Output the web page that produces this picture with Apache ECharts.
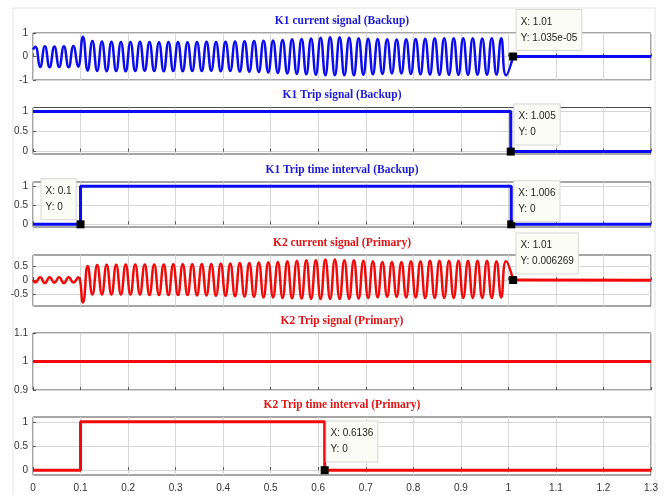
<!DOCTYPE html>
<html>
<head>
<meta charset="utf-8">
<script src="https://cdn.jsdelivr.net/npm/echarts@6/dist/echarts.min.js"></script>
<style>
html,body{margin:0;padding:0;background:#fff;}
#chart{width:665px;height:495px;}
</style>
</head>
<body>
<div id="chart"></div>
<script>
// panel titles
var titles = ['K1 current signal (Backup)','K1 Trip signal (Backup)','K1 Trip time interval (Backup)',
              'K2 current signal (Primary)','K2 Trip signal (Primary)','K2 Trip time interval (Primary)'];

// x axis (time, s)
var xMin = 0, xMax = 1.3, xStep = 0.1;

// y axis ticks of each panel
var yTicks = [[-1,0,1],[0,0.5,1],[0,0.5,1],[-0.5,0,0.5],[0.9,1,1.1],[0,0.5,1]];
var yRange = [[-1,1],[-0.06,1.1],[-0.07,1.11],[-0.9,0.88],[0.9,1.1],[-0.1,1.1]];

// current waveforms: value at each half-cycle peak (50 Hz, first at 0.005 s, every 0.01 s)
var k1Start = 0.3;
var k1Peaks = [
  0.42,-0.45,0.44,-0.46,0.43,-0.45,0.44,-0.46,0.45,-0.44,
  0.84,-0.6,0.66,-0.62,0.64,-0.63,0.63,-0.62,0.62,-0.63,
  0.62,-0.62,0.63,-0.61,0.62,-0.62,0.61,-0.63,0.62,-0.62,
  0.62,-0.63,0.61,-0.62,0.62,-0.62,0.63,-0.61,0.62,-0.63,
  0.63,-0.62,0.64,-0.64,0.65,-0.65,0.66,-0.66,0.67,-0.68,
  0.68,-0.7,0.7,-0.72,0.73,-0.74,0.75,-0.76,0.77,-0.78,
  0.8,-0.8,0.82,-0.8,0.82,-0.8,0.8,-0.8,0.78,-0.78,
  0.76,-0.76,0.74,-0.74,0.73,-0.72,0.72,-0.72,0.73,-0.74,
  0.74,-0.76,0.76,-0.77,0.78,-0.78,0.78,-0.78,0.78,-0.78,
  0.78,-0.78,0.78,-0.78,0.77,-0.78,0.78,-0.77,0.78,-0.8
];
var k2Start = 0;
var k2Peaks = [
  -0.08,0.1,-0.1,0.1,-0.09,0.1,-0.1,0.1,-0.08,0.1,
  -0.78,0.5,-0.5,0.53,-0.5,0.54,-0.5,0.54,-0.5,0.55,
  -0.5,0.55,-0.5,0.55,-0.52,0.55,-0.52,0.55,-0.52,0.56,
  -0.52,0.56,-0.52,0.56,-0.53,0.57,-0.53,0.57,-0.54,0.58,
  -0.55,0.58,-0.56,0.6,-0.57,0.6,-0.58,0.62,-0.6,0.63,
  -0.6,0.64,-0.62,0.66,-0.63,0.68,-0.64,0.7,-0.65,0.7,
  -0.66,0.72,-0.66,0.72,-0.66,0.7,-0.65,0.7,-0.64,0.68,
  -0.62,0.66,-0.6,0.64,-0.58,0.64,-0.58,0.64,-0.6,0.66,
  -0.6,0.66,-0.62,0.68,-0.62,0.68,-0.62,0.68,-0.62,0.68,
  -0.62,0.68,-0.62,0.68,-0.62,0.68,-0.62,0.66,-0.6,0.66
];
var peakT0 = 0.005, peakDt = 0.01;

// trip signals (step points)
var k1TripT = [0, 1.005, 1.3];      var k1TripV = [1, 0, 0];
var k1IntT  = [0, 0.1, 1.006, 1.3]; var k1IntV  = [0, 1, 0, 0];
var k2TripT = [0, 1.3];             var k2TripV = [1, 1];
var k2IntT  = [0, 0.1, 0.6136, 1.3]; var k2IntV = [0, 1, 0, 0];

// breaker opening point of each current
var k1End = [1.01, 1.035e-05];
var k2End = [1.01, 0.006269];

// data tips
var tipK1Cur = [1.01, 1.035e-05], tipK1CurText = 'X: 1.01\nY: 1.035e-05';
var tipK1Trip = [1.005, 0],       tipK1TripText = 'X: 1.005\nY: 0';
var tipK1IntA = [0.1, 0],         tipK1IntAText = 'X: 0.1\nY: 0';
var tipK1IntB = [1.006, 0],       tipK1IntBText = 'X: 1.006\nY: 0';
var tipK2Cur = [1.01, 0.006269],  tipK2CurText = 'X: 1.01\nY: 0.006269';
var tipK2Int = [0.6136, 0],       tipK2IntText = 'X: 0.6136\nY: 0';

var BLUE = '#0b0bf2', RED = '#f20808';
var panelTop = [33, 107.5, 182, 255, 333, 417];
var panelH   = [47, 46.5, 45, 51, 57, 58];

function wave(start, peaks, end){
	var d = [[0, start]];
	for (var i = 0; i < peaks.length; i++) d.push([peakT0 + i*peakDt, peaks[i]]);
	d.push(end);
	return d;
}
function pairs(t, v){
	return t.map(function(x, i){ return [x, v[i]]; });
}
function tip(coord, text, pos){
	return {
		coord: coord,
		label: {
			show: true, formatter: text, position: pos, align: 'left', verticalAlign: 'top',
			color: '#222', fontSize: 10, fontFamily: 'Liberation Sans', lineHeight: 16,
			backgroundColor: '#fcfcf6', borderColor: '#d6d6d6', borderWidth: 1, padding: [4,4,4,4]
		}
	};
}
function marks(list){
	return {symbol: 'rect', symbolSize: 8, silent: true, itemStyle: {color: '#000'}, data: list};
}

var grids = [], xAxes = [], yAxes = [], titleList = [];
for (var i = 0; i < 6; i++){
	grids.push({left: 33, right: 14, top: panelTop[i], height: panelH[i], show: true,
		borderColor: '#4d4d4d', borderWidth: 1, backgroundColor: '#fff'});
	xAxes.push({
		type: 'value', gridIndex: i, min: xMin, max: xMax, interval: xStep,
		axisLine: {show: false},
		axisTick: {inside: true, length: 3, lineStyle: {color: '#555'}},
		axisLabel: {show: i === 5, color: '#333', fontSize: 10, fontFamily: 'Liberation Sans', margin: 8},
		splitLine: {show: true, lineStyle: {color: '#d6d6d6'}}
	});
	yAxes.push({
		type: 'value', gridIndex: i, min: yRange[i][0], max: yRange[i][1],
		axisLine: {show: false},
		axisTick: {inside: true, length: 3, customValues: yTicks[i], lineStyle: {color: '#555'}},
		axisLabel: {customValues: yTicks[i], color: '#333', fontSize: 10, fontFamily: 'Liberation Sans', margin: 5},
		splitLine: {show: true, lineStyle: {color: '#d6d6d6'}}
	});
	titleList.push({
		text: titles[i], left: 342, textAlign: 'center', top: panelTop[i] - 18, padding: 0,
		textStyle: {color: i < 3 ? '#1c1cd6' : '#e01414', fontSize: 11.5, fontWeight: 'bold', fontFamily: 'Liberation Serif'}
	});
}

var lineBase = {type: 'line', showSymbol: false, silent: true, z: 3};
function line(idx, color, width, data, extra){
	var s = Object.assign({}, lineBase, {xAxisIndex: idx, yAxisIndex: idx, data: data,
		lineStyle: {color: color, width: width}, itemStyle: {color: color}});
	return Object.assign(s, extra || {});
}

var option = {
	animation: false,
	backgroundColor: '#fff',
	graphic: [{type: 'rect', shape: {x: 13, y: 8, width: 642, height: 492}, style: {fill: 'none', stroke: '#e4e4e4', lineWidth: 1}, z: -1}],
	title: titleList,
	grid: grids,
	xAxis: xAxes,
	yAxis: yAxes,
	series: [
		line(0, BLUE, 2.5, wave(k1Start, k1Peaks, k1End), {smooth: 0.5,
			markPoint: marks([tip(tipK1Cur, tipK1CurText, [7.5, -42.5])])}),
		line(0, BLUE, 3, [k1End, [xMax, 0]]),
		line(1, BLUE, 3, pairs(k1TripT, k1TripV), {step: 'end',
			markPoint: marks([tip(tipK1Trip, tipK1TripText, [7.7, -43])])}),
		line(2, BLUE, 3, pairs(k1IntT, k1IntV), {step: 'end',
			markPoint: marks([tip(tipK1IntA, tipK1IntAText, [-35, -41]), tip(tipK1IntB, tipK1IntBText, [7, -39])])}),
		line(3, RED, 2.5, wave(k2Start, k2Peaks, k2End), {smooth: 0.5,
			markPoint: marks([tip(tipK2Cur, tipK2CurText, [7.3, -42.5])])}),
		line(3, RED, 3, [k2End, [xMax, 0]]),
		line(4, RED, 3, pairs(k2TripT, k2TripV)),
		line(5, RED, 3, pairs(k2IntT, k2IntV), {step: 'end',
			markPoint: marks([tip(tipK2Int, tipK2IntText, [5.8, -44.7])])})
	]
};

var myChart = echarts.init(document.getElementById('chart'));
myChart.setOption(option);
</script>
</body>
</html>
